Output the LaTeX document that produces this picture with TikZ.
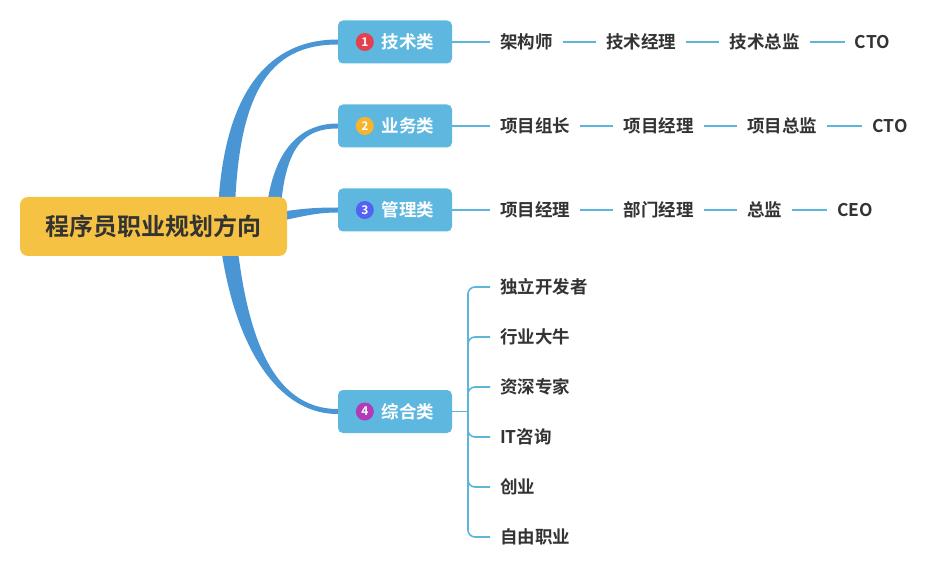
\documentclass[tikz,border=0pt]{standalone}
\usepackage{fontspec}
\setmainfont{Noto Sans CJK SC}[BoldFont={Noto Sans CJK SC Bold}]
\usetikzlibrary{positioning,calc,backgrounds}

\definecolor{rootyellow}{HTML}{F5C243}
\definecolor{catblue}{HTML}{5DB7DE}
\definecolor{trunkblue}{HTML}{4A96D4}
\definecolor{twigblue}{HTML}{5DB5D9}
\definecolor{ink}{HTML}{333333}
\definecolor{numred}{HTML}{E5404D}
\definecolor{numorange}{HTML}{F6B42F}
\definecolor{numblue}{HTML}{5561F2}
\definecolor{numpurple}{HTML}{B23BB6}

\tikzset{
  root/.style={fill=rootyellow, rounded corners=8pt, minimum width=267pt, minimum height=59pt,
    text=ink, font=\fontsize{24}{28}\selectfont\bfseries},
  cat/.style={fill=catblue, rounded corners=5pt, minimum width=114pt, minimum height=43pt,
    inner sep=0pt, text=white, font=\fontsize{17.5}{20}\selectfont\bfseries},
  badge/.style={circle, minimum size=18pt, inner sep=0pt, text=white,
    font=\fontsize{12}{14}\selectfont\bfseries},
  leaf/.style={inner sep=0pt, anchor=west, text=ink, font=\fontsize{17.5}{20}\selectfont\bfseries},
  twig/.style={draw=twigblue, line width=1.6pt, shorten <=10pt, shorten >=10pt},
  fork/.style={draw=twigblue, line width=1.6pt, rounded corners=7pt, shorten >=10pt},
}

% tapered branch: start, control 1, control 2, end, start offset, end offset
\newcommand\branch[6]{%
  \fill[trunkblue] ($#1+#5$) .. controls ($#2+#5$) and ($#3+#6$) .. ($#4+#6$)
    -- ($#4-#6$) .. controls ($#3-#6$) and ($#2-#5$) .. ($#1-#5$) -- cycle;}

\begin{document}
\begin{tikzpicture}[x=1pt,y=-1pt]
    \useasboundingbox (0,0) rectangle (938,572);

    % Root
    \node[root] (root) at (153.5,226.5) {程序员职业规划方向};

    % Categories
    \node[cat] (c1) at (395,42) {\hspace{26pt}技术类};
    \node[cat] (c2) at (395,126) {\hspace{26pt}业务类};
    \node[cat] (c3) at (395,210) {\hspace{26pt}管理类};
    \node[cat] (c4) at (395,411.5) {\hspace{26pt}综合类};

    \node[badge, fill=numred] (n1) at ($(c1.west)+(27,0)$) {1};
    \node[badge, fill=numorange] (n2) at ($(c2.west)+(27,0)$) {2};
    \node[badge, fill=numblue] (n3) at ($(c3.west)+(27,0)$) {3};
    \node[badge, fill=numpurple] (n4) at ($(c4.west)+(27,0)$) {4};

    % Branches behind the boxes
    \begin{scope}[on background layer]
        \branch{(226,236)}{(226,90)}{(270,42)}{(c1.west)}{(-8.5,0)}{(0,-2.5)}
        \branch{(272,245)}{(272,150)}{(300,126)}{(c2.west)}{(-7.5,0)}{(0,-2.5)}
        \branch{(250,222)}{(295,214)}{(310,210)}{(c3.west)}{(0,-5)}{(0,-2.5)}
        \branch{(226,216)}{(235,330)}{(270,411.5)}{(c4.west)}{(-8.5,0)}{(0,2.5)}
    \end{scope}

    % Row 1
    \node[leaf] (l11) at (500,42) {架构师};
    \node[leaf, right=53pt of l11] (l12) {技术经理};
    \node[leaf, right=53pt of l12] (l13) {技术总监};
    \node[leaf, right=55pt of l13] (l14) {CTO};
    \draw[twig] (c1.east) ++(-10,0) -- (l11.west);
    \draw[twig] (l11.east) -- (l12.west);
    \draw[twig] (l12.east) -- (l13.west);
    \draw[twig] (l13.east) -- (l14.west);

    % Row 2
    \node[leaf] (l21) at (500,126) {项目组长};
    \node[leaf, right=53pt of l21] (l22) {项目经理};
    \node[leaf, right=53pt of l22] (l23) {项目总监};
    \node[leaf, right=55pt of l23] (l24) {CTO};
    \draw[twig] (c2.east) ++(-10,0) -- (l21.west);
    \draw[twig] (l21.east) -- (l22.west);
    \draw[twig] (l22.east) -- (l23.west);
    \draw[twig] (l23.east) -- (l24.west);

    % Row 3
    \node[leaf] (l31) at (500,210) {项目经理};
    \node[leaf, right=53pt of l31] (l32) {部门经理};
    \node[leaf, right=53pt of l32] (l33) {总监};
    \node[leaf, right=55pt of l33] (l34) {CEO};
    \draw[twig] (c3.east) ++(-10,0) -- (l31.west);
    \draw[twig] (l31.east) -- (l32.west);
    \draw[twig] (l32.east) -- (l33.west);
    \draw[twig] (l33.east) -- (l34.west);

    % Row 4
    \coordinate (split) at (468,411.5);
    \node[leaf] (l41) at (500,287) {独立开发者};
    \node[leaf] (l42) at (500,337) {行业大牛};
    \node[leaf] (l43) at (500,387) {资深专家};
    \node[leaf] (l44) at (500,437) {IT咨询};
    \node[leaf] (l45) at (500,487) {创业};
    \node[leaf] (l46) at (500,537) {自由职业};
    \draw[draw=twigblue, line width=1.6pt] (c4.east) -- (split);
    \foreach \n in {l41,l42,l43,l44,l45,l46}
        \draw[fork] (split) |- (\n.west);
\end{tikzpicture}
\end{document}
